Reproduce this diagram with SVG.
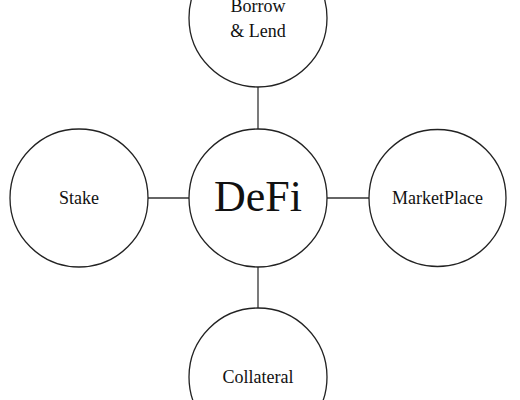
<svg xmlns="http://www.w3.org/2000/svg" width="520" height="400" viewBox="0 0 520 400">
<style>
.n{fill:#fff;stroke:#222;stroke-width:1.3}
.c{stroke:#333;stroke-width:1.3;fill:none}
.t{font-family:"Liberation Serif","Times New Roman",serif;font-size:18px;fill:#111;text-anchor:middle}
.big{font-size:44px}
</style>
<rect width="520" height="400" fill="#fff"/>
<g id="connectors">
<line class="c" x1="258" y1="87" x2="258" y2="129"/>
<line class="c" x1="258" y1="267" x2="258" y2="308"/>
<line class="c" x1="148" y1="198" x2="189" y2="198"/>
<line class="c" x1="327" y1="198" x2="369" y2="198"/>
</g>
<g id="defi">
<circle class="n" cx="258" cy="198" r="69"/>
<text class="t big" x="258" y="211">DeFi</text>
</g>
<g id="borrow">
<circle class="n" cx="258" cy="18" r="69"/>
<text class="t" x="258" y="12">Borrow</text>
<text class="t" x="258" y="37">&amp; Lend</text>
</g>
<g id="stake">
<circle class="n" cx="79" cy="198" r="69"/>
<text class="t" x="79" y="204">Stake</text>
</g>
<g id="marketplace">
<circle class="n" cx="437.5" cy="198" r="68.5"/>
<text class="t" x="437.5" y="204">MarketPlace</text>
</g>
<g id="collateral">
<circle class="n" cx="258" cy="377" r="69"/>
<text class="t" x="258" y="383">Collateral</text>
</g>
</svg>
